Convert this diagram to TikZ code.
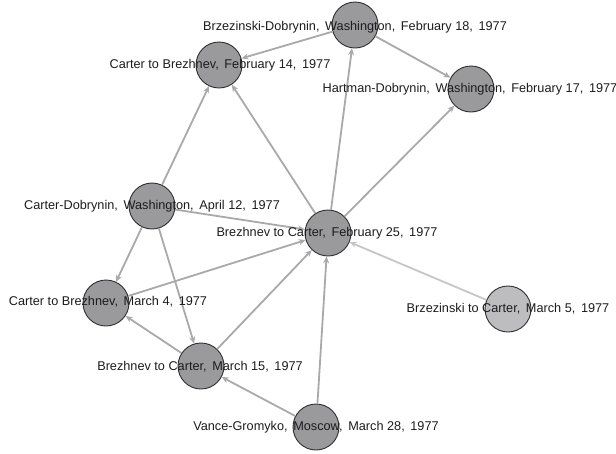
\documentclass[tikz,border=0pt]{standalone}
\usepackage{fontspec}
\setmainfont{Liberation Sans}
\usetikzlibrary{arrows.meta}
\definecolor{nodefill}{HTML}{9A9A9C}
\definecolor{nodelight}{HTML}{BDBDBF}
\definecolor{nodeline}{HTML}{2E2E2E}
\definecolor{edgecol}{HTML}{A9A9A9}
\definecolor{edgelight}{HTML}{C6C6C6}
\definecolor{labelcol}{HTML}{1C1C1C}
\tikzset{
  vert/.style={circle, draw=nodeline, line width=0.9pt, fill=nodefill, minimum size=46pt, inner sep=0pt},
  vertlight/.style={vert, fill=nodelight},
  lab/.style={text=labelcol, inner sep=0pt, font=\fontsize{12.7}{14}\selectfont},
  edge/.style={draw=edgecol, line width=1.8pt, -{Stealth[length=7pt,width=6pt]}},
  edgel/.style={edge, draw=edgelight},
}
\begin{document}
\begin{tikzpicture}[x=1pt,y=-1pt]
\useasboundingbox (0,0) rectangle (616,453);
% vertices
\node[vert] (bd) at (355,25) {};
\node[vert] (cb14) at (219,65) {};
\node[vert] (hd) at (471,89) {};
\node[vert] (cd) at (152,206) {};
\node[vert] (bc25) at (328,233) {};
\node[vert] (cb4) at (106,303) {};
\node[vertlight] (bc5) at (508,309) {};
\node[vert] (bc15) at (201,366) {};
\node[vert] (vg) at (316,427) {};
% edges
\draw[edge] (bd) -- (cb14);
\draw[edge] (bd) -- (hd);
\draw[edge] (bc25) -- (bd);
\draw[edge] (bc25) -- (hd);
\draw[edge] (bc25) -- (cb14);
\draw[edge] (cd) -- (cb14);
\draw[edge] (cd) -- (bc25);
\draw[edge] (cd) -- (cb4);
\draw[edge] (cd) -- (bc15);
\draw[edge] (cb4) -- (bc25);
\draw[edge] (bc15) -- (cb4);
\draw[edge] (bc15) -- (bc25);
\draw[edge] (vg) -- (bc15);
\draw[edge] (vg) -- (bc25);
\draw[edgel] (bc5) -- (bc25);
% labels
\node[lab] (lbd) at (355,27) {Brzezinski-Dobrynin, \,Washington, \,February 18, \,1977};
\node[lab] (lcb14) at (220,65) {Carter to Brezhnev, \,February 14, \,1977};
\node[lab] (lhd) at (470,89) {Hartman-Dobrynin, \,Washington, \,February 17, \,1977};
\node[lab] (lcd) at (152,206) {Carter-Dobrynin, \,Washington, \,April 12, \,1977};
\node[lab] (lbc25) at (327,233) {Brezhnev to Carter, \,February 25, \,1977};
\node[lab] (lcb4) at (108,302) {Carter to Brezhnev, \,March 4, \,1977};
\node[lab] (lbc5) at (508,309) {Brzezinski to Carter, \,March 5, \,1977};
\node[lab] (lbc15) at (200,367) {Brezhnev to Carter, \,March 15, \,1977};
\node[lab] (lvg) at (316,427) {Vance-Gromyko, \,Moscow, \,March 28, \,1977};
\end{tikzpicture}
\end{document}
